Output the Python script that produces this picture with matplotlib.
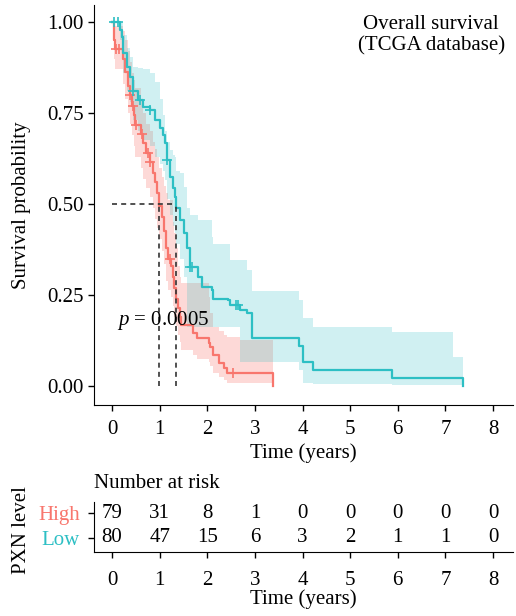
import numpy as np
import matplotlib
matplotlib.use('Agg')
import matplotlib.pyplot as plt

plt.rcParams['font.family'] = ['Liberation Serif', 'DejaVu Serif']
plt.rcParams['mathtext.fontset'] = 'custom'
plt.rcParams['mathtext.rm'] = 'Liberation Serif'
plt.rcParams['mathtext.it'] = 'Liberation Serif:italic'

# Kaplan-Meier steps for the high PXN group (time in years, survival, 95% CI)
high_years = [0.00, 0.03, 0.05, 0.07, 0.22, 0.28, 0.33, 0.38, 0.42, 0.45, 0.48,
              0.60, 0.65, 0.72, 0.80, 0.86, 0.90, 0.95, 0.987, 1.04, 1.08, 1.13,
              1.18, 1.24, 1.27, 1.31, 1.35, 1.38, 1.42, 1.45, 1.70, 1.78, 2.03,
              2.06, 2.12, 2.25, 2.35, 2.42, 2.68, 3.38]
high_surv = [1.000, 0.975, 0.950, 0.926, 0.900, 0.862, 0.825, 0.800, 0.770, 0.745, 0.717,
             0.692, 0.667, 0.640, 0.615, 0.585, 0.560, 0.530, 0.495, 0.465, 0.425, 0.380,
             0.350, 0.330, 0.300, 0.270, 0.240, 0.215, 0.190, 0.167, 0.146, 0.132, 0.118,
             0.107, 0.085, 0.063, 0.050, 0.036, 0.036, 0.000]
high_lower = [1.000, 0.940, 0.900, 0.870, 0.830, 0.790, 0.750, 0.720, 0.690, 0.660, 0.630,
              0.600, 0.570, 0.545, 0.520, 0.490, 0.460, 0.435, 0.405, 0.370, 0.335, 0.290,
              0.265, 0.245, 0.220, 0.190, 0.165, 0.140, 0.120, 0.100, 0.085, 0.075, 0.065,
              0.055, 0.036, 0.025, 0.016, 0.008, 0.008, 0.000]
high_upper = [1.000, 1.000, 1.000, 0.990, 0.975, 0.950, 0.920, 0.890, 0.860, 0.840, 0.820,
              0.790, 0.750, 0.720, 0.700, 0.670, 0.650, 0.630, 0.600, 0.575, 0.550, 0.530,
              0.510, 0.510, 0.450, 0.420, 0.380, 0.330, 0.300, 0.283, 0.283, 0.283, 0.245,
              0.200, 0.162, 0.150, 0.140, 0.135, 0.126, 0.000]
high_censor = [0.09, 0.15, 0.38, 0.44, 0.50, 0.63, 0.76, 0.80, 1.22, 2.54]

# Kaplan-Meier steps for the low PXN group
low_years = [0.00, 0.17, 0.21, 0.23, 0.32, 0.38, 0.44, 0.55, 0.65, 0.80, 0.90,
             1.01, 1.06, 1.11, 1.16, 1.22, 1.28, 1.32, 1.345, 1.43, 1.50, 1.58,
             1.64, 1.81, 1.89, 2.10, 2.12, 2.44, 2.48, 2.69, 2.84, 2.94, 3.93,
             4.01, 4.22, 5.88, 7.16, 7.38]
low_surv = [1.000, 0.978, 0.960, 0.915, 0.876, 0.850, 0.810, 0.786, 0.767, 0.758, 0.730,
            0.709, 0.690, 0.668, 0.620, 0.574, 0.545, 0.520, 0.490, 0.456, 0.420, 0.380,
            0.327, 0.300, 0.272, 0.264, 0.240, 0.236, 0.222, 0.210, 0.200, 0.132, 0.110,
            0.066, 0.044, 0.022, 0.022, 0.000]
low_lower = [1.000, 0.950, 0.920, 0.860, 0.810, 0.780, 0.730, 0.700, 0.675, 0.660, 0.630,
             0.610, 0.590, 0.565, 0.515, 0.470, 0.440, 0.420, 0.390, 0.350, 0.300, 0.162,
             0.162, 0.162, 0.162, 0.162, 0.162, 0.162, 0.162, 0.066, 0.066, 0.066, 0.045,
             0.008, 0.006, 0.003, 0.003, 0.000]
low_upper = [1.000, 1.000, 1.000, 0.965, 0.930, 0.905, 0.876, 0.874, 0.870, 0.860, 0.835,
             0.790, 0.745, 0.700, 0.670, 0.648, 0.635, 0.630, 0.590, 0.585, 0.547, 0.490,
             0.470, 0.456, 0.456, 0.410, 0.390, 0.390, 0.346, 0.346, 0.320, 0.260, 0.236,
             0.187, 0.162, 0.148, 0.080, 0.000]
low_censor = [0.03, 0.13, 0.44, 0.59, 0.80, 1.16, 1.64, 1.68, 2.60, 2.65]

p_value = 0.0005

# Number at risk table
risk_times = [0, 1, 2, 3, 4, 5, 6, 7, 8]
risk_high = [79, 31, 8, 1, 0, 0, 0, 0, 0]
risk_low = [80, 47, 15, 6, 3, 2, 1, 1, 0]
group_names = ['High', 'Low']

col_high = '#F8766D'
col_low = '#2DBFC4'
W, H = 516, 616


def surv_at(years, surv, t):
    idx = np.searchsorted(years, t, side='right') - 1
    return np.asarray(surv)[idx]


def median_time(years, surv):
    surv = np.asarray(surv)
    return np.asarray(years)[np.argmax(surv <= 0.5)]


fig = plt.figure(figsize=(W / 100, H / 100), dpi=100)
ax = fig.add_axes([94 / W, 1 - 405 / H, 419 / W, 400 / H])

for years, surv, lo, hi, cens, col, a in [
        (high_years, high_surv, high_lower, high_upper, high_censor, col_high, 0.27),
        (low_years, low_surv, low_lower, low_upper, low_censor, col_low, 0.22)]:
    ax.fill_between(years, lo, hi, step='post', color=col, alpha=a, lw=0)
    ax.step(years, surv, where='post', color=col, lw=1.6)
    ax.plot(cens, surv_at(years, surv, cens), '+', color=col, ms=7, mew=1.2)

# median survival guides
m_high = median_time(high_years, high_surv)
m_low = median_time(low_years, low_surv)
ax.plot([0, max(m_high, m_low)], [0.5, 0.5], ls=(0, (3, 2.5)), color='#333333', lw=1.2)
for m in (m_high, m_low):
    ax.plot([m, m], [0, 0.5], ls=(0, (3, 2.5)), color='#333333', lw=1.2)

ax.text(0.1, 0.18, r'$p$ = ' + f'{p_value:.4f}', fontsize=15, ha='left', va='center')
ax.text(0.805, 0.925, 'Overall survival\n(TCGA database)', transform=ax.transAxes,
        fontsize=15, ha='center', va='center', linespacing=1.15)

ax.set_xlim(-0.38, 8.42)
ax.set_ylim(-0.052, 1.047)
ax.set_xticks(risk_times)
ax.set_yticks([0, 0.25, 0.5, 0.75, 1.0])
ax.set_yticklabels(['0.00', '0.25', '0.50', '0.75', '1.00'])
ax.set_xlabel('Time (years)', fontsize=15, labelpad=3)
ax.spines[['top', 'right']].set_visible(False)
ax.tick_params(labelsize=15, length=4, width=1, colors='black')
ax.tick_params(axis='x', pad=7)

# risk table
ax2 = fig.add_axes([94 / W, 1 - 552 / H, 419 / W, 50 / H])
rows = [1, 0]
for row, counts in zip(rows, [risk_high, risk_low]):
    for t, n in zip(risk_times, counts):
        ax2.text(t, row, str(n), fontsize=15, ha='center', va='center')
ax2.set_xlim(-0.38, 8.42)
ax2.set_ylim(-0.56, 1.44)
ax2.set_xticks(risk_times)
ax2.set_yticks(rows)
ax2.set_yticklabels(group_names)
for lab, col in zip(ax2.get_yticklabels(), [col_high, col_low]):
    lab.set_color(col)
ax2.set_xlabel('Time (years)', fontsize=15, labelpad=-1)
ax2.spines[['top', 'right']].set_visible(False)
ax2.tick_params(labelsize=15, length=4, width=1)
ax2.tick_params(axis='x', pad=10)
ax2.tick_params(axis='y', pad=6)

fig.text(94 / W, 1 - 483 / H, 'Number at risk', fontsize=15, ha='left', va='center')
fig.text(22 / W, 1 - 205 / H, 'Survival probability', fontsize=15, rotation=90,
         ha='center', va='center')
fig.text(22 / W, 1 - 530 / H, 'PXN level', fontsize=15, rotation=90,
         ha='center', va='center')

fig.savefig('out.png', dpi=100)
